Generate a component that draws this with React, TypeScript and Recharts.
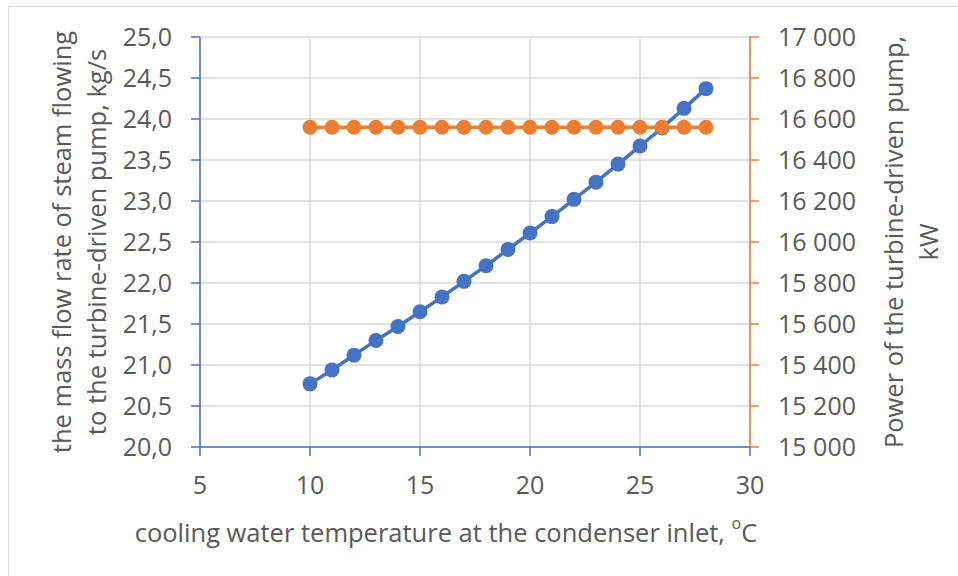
import React from "react";
import {
  ComposedChart,
  Line,
  XAxis,
  YAxis,
  CartesianGrid,
  Label,
} from "recharts";

const temperatures = [10, 11, 12, 13, 14, 15, 16, 17, 18, 19, 20, 21, 22, 23, 24, 25, 26, 27, 28];
const steamFlow = [
  20.77, 20.94, 21.12, 21.3, 21.47, 21.65, 21.83, 22.02, 22.21, 22.41,
  22.61, 22.81, 23.02, 23.23, 23.45, 23.67, 23.89, 24.13, 24.37,
];
const pumpPower = [
  16560, 16560, 16560, 16560, 16560, 16560, 16560, 16560, 16560, 16560,
  16560, 16560, 16560, 16560, 16560, 16560, 16560, 16560, 16560,
];
const xTicks = [5, 10, 15, 20, 25, 30];
const leftTicks = [20, 20.5, 21, 21.5, 22, 22.5, 23, 23.5, 24, 24.5, 25];
const rightTicks = [15000, 15200, 15400, 15600, 15800, 16000, 16200, 16400, 16600, 16800, 17000];

const xTitle = "cooling water temperature at the condenser inlet, ";
const leftTitle1 = "the mass flow rate of steam flowing";
const leftTitle2 = "to the turbine-driven pump, kg/s";
const rightTitle1 = "Power of the turbine-driven pump,";
const rightTitle2 = "kW";

const data = temperatures.map((t, i) => ({
  t,
  flow: steamFlow[i],
  power: pumpPower[i],
}));

const FONT = "'Open Sans', sans-serif";
const TEXT = "#595959";
const BLUE = "#4472C4";
const ORANGE = "#ED7D31";
const GRID = "#d9d9d9";
const TITLE_SIZE = 25.5;

const fmtLeft = (v: number) => v.toFixed(1).replace(".", ",");
const fmtRight = (v: number) => {
  const s = String(Math.round(v));
  return s.slice(0, s.length - 3) + " " + s.slice(s.length - 3);
};

const tickStyle = { fill: TEXT, fontSize: 25, fontFamily: FONT };

export default function App() {
  return (
    <div style={{ position: "absolute", left: 0, top: 0, width: 958, height: 576, background: "#fff" }}>
      <div style={{ position: "absolute", left: 8, top: 6, width: 950, height: 1, background: GRID }} />
      <div style={{ position: "absolute", left: 8, top: 6, width: 1, height: 570, background: GRID }} />
      <ComposedChart
        width={958}
        height={576}
        data={data}
        margin={{ top: 37, right: 0, left: 0, bottom: 0 }}
        style={{ position: "absolute", left: 0, top: 0 }}
      >
        <CartesianGrid stroke={GRID} strokeWidth={1.5} yAxisId="left" />
        <XAxis
          dataKey="t"
          type="number"
          domain={[5, 30]}
          ticks={xTicks}
          height={129}
          stroke={BLUE}
          strokeWidth={1.5}
          tickSize={9}
          tickMargin={20}
          tick={tickStyle}
          interval={0}
        >
          <Label
            content={() => (
              <text
                x={446}
                y={532}
                textAnchor="middle"
                dominantBaseline="central"
                fill={TEXT}
                fontSize={TITLE_SIZE}
                fontFamily={FONT}
              >
                {xTitle}
                <tspan fontSize={16} dy={-9}>o</tspan>
                <tspan dy={9}>C</tspan>
              </text>
            )}
          />
        </XAxis>
        <YAxis
          yAxisId="left"
          orientation="left"
          width={200}
          domain={[20, 25]}
          ticks={leftTicks}
          tickFormatter={fmtLeft}
          stroke={BLUE}
          strokeWidth={1.5}
          tickSize={9}
          tickMargin={19}
          tick={tickStyle}
          interval={0}
        >
          <Label
            content={() => (
              <g fill={TEXT} fontSize={TITLE_SIZE} fontFamily={FONT}>
                <text transform="translate(61,242) rotate(-90)" textAnchor="middle" dominantBaseline="central">
                  {leftTitle1}
                </text>
                <text transform="translate(96,242) rotate(-90)" textAnchor="middle" dominantBaseline="central">
                  {leftTitle2}
                </text>
              </g>
            )}
          />
        </YAxis>
        <YAxis
          yAxisId="right"
          orientation="right"
          width={208}
          domain={[15000, 17000]}
          ticks={rightTicks}
          tickFormatter={fmtRight}
          stroke={ORANGE}
          strokeWidth={1.5}
          tickSize={9}
          tickMargin={19}
          tick={tickStyle}
          interval={0}
        >
          <Label
            content={() => (
              <g fill={TEXT} fontSize={TITLE_SIZE} fontFamily={FONT}>
                <text transform="translate(893,242) rotate(-90)" textAnchor="middle" dominantBaseline="central">
                  {rightTitle1}
                </text>
                <text transform="translate(928,242) rotate(-90)" textAnchor="middle" dominantBaseline="central">
                  {rightTitle2}
                </text>
              </g>
            )}
          />
        </YAxis>
        <Line
          yAxisId="left"
          dataKey="flow"
          stroke={BLUE}
          strokeWidth={3.5}
          dot={{ r: 7.5, fill: BLUE, stroke: BLUE, strokeWidth: 0 }}
          activeDot={false}
          isAnimationActive={false}
        />
        <Line
          yAxisId="right"
          dataKey="power"
          stroke={ORANGE}
          strokeWidth={3.5}
          dot={{ r: 7.5, fill: ORANGE, stroke: ORANGE, strokeWidth: 0 }}
          activeDot={false}
          isAnimationActive={false}
        />
      </ComposedChart>
    </div>
  );
}
